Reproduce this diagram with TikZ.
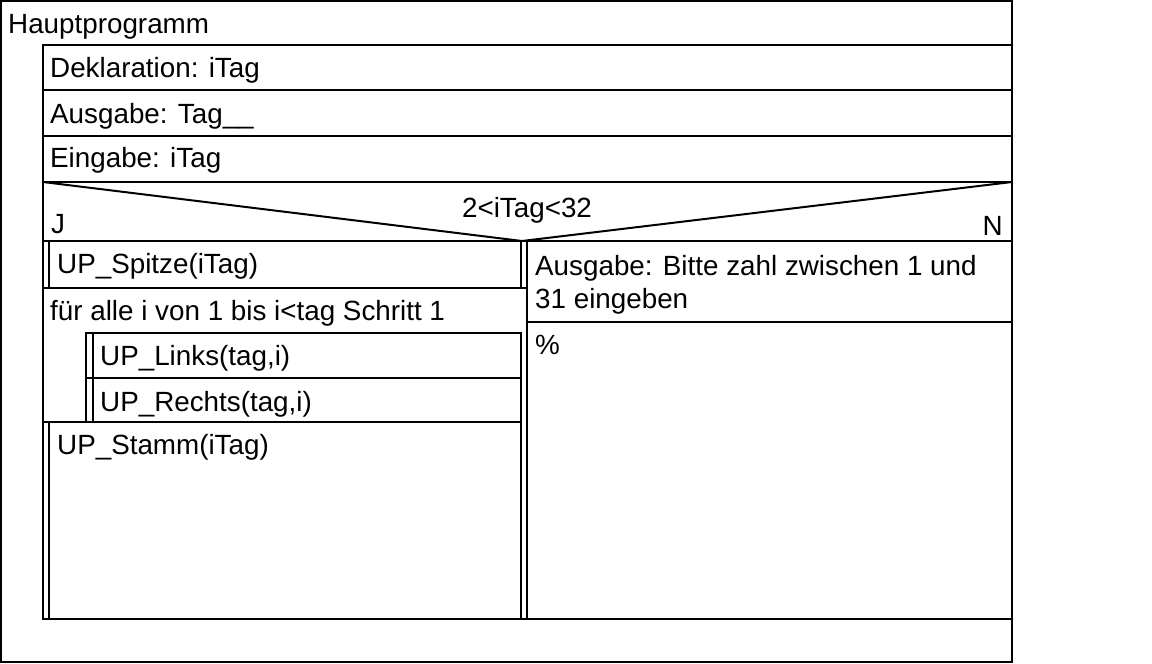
\documentclass[tikz,border=0pt]{standalone}
\usepackage{fontspec}
\setmainfont{Liberation Sans}
\begin{document}
\begin{tikzpicture}[x=1pt,y=-1pt,
  rule/.style={line width=2pt,line cap=rect},
  label/.style={anchor=base west,inner sep=0pt,font=\fontsize{27.8}{33}\selectfont}]
\useasboundingbox (0,0) rectangle (1152,664);
\fill[white] (0,0) rectangle (1152,664);

% outer program frame
\draw[rule] (1,1) rectangle (1012,662);
\node[label] (title) at (8,33) {Hauptprogramm};

% body of the program
\draw[rule] (43,45) -- (1012,45);
\draw[rule] (43,45) -- (43,619) -- (1012,619);
\draw[rule] (43,90) -- (1012,90);
\draw[rule] (43,136) -- (1012,136);
\draw[rule] (43,182) -- (1012,182);
\node[label] (decl) at (50,77) {Deklaration: iTag};
\node[label] (out1) at (50,123) {Ausgabe: Tag\_\_};
\node[label] (in1) at (50,167) {Eingabe: iTag};

% decision header
\coordinate (apex) at (522,241);
\draw[rule] (43,182) -- (apex) -- (1012,182);
\draw[rule] (43,241) -- (1012,241);
\node[label,anchor=base] (cond) at (527,217) {2<iTag<32};
\node[label] (yes) at (51,233) {J};
\node[label,anchor=base east] (no) at (1003,235) {N};

% split between branches
\draw[rule] (521,241) -- (521,288);
\draw[rule] (521,333) -- (521,619);
\draw[rule] (527,241) -- (527,619);

% yes branch: call UP_Spitze
\draw[rule] (49,241) -- (49,288);
\draw[rule] (43,288) -- (527,288);
\node[label] (spitze) at (57,273) {UP\_Spitze(iTag)};

% counting loop
\node[label] (loop) at (50,320) {für alle i von 1 bis i<tag Schritt 1};
\draw[rule] (86,333) -- (521,333);
\draw[rule] (86,333) -- (86,422);
\draw[rule] (93,333) -- (93,422);
\draw[rule] (86,378) -- (521,378);
\draw[rule] (43,422) -- (521,422);
\node[label] (links) at (100,365) {UP\_Links(tag,i)};
\node[label] (rechts) at (100,411) {UP\_Rechts(tag,i)};

% call UP_Stamm
\draw[rule] (49,422) -- (49,619);
\node[label] (stamm) at (57,454) {UP\_Stamm(iTag)};

% no branch
\draw[rule] (527,322) -- (1012,322);
\node[label] (msg) at (535,275) {Ausgabe: Bitte zahl zwischen 1 und};
\node[label] (msg2) at (535,308) {31 eingeben};
\node[label] (empty) at (535,354) {\%};
\end{tikzpicture}
\end{document}
